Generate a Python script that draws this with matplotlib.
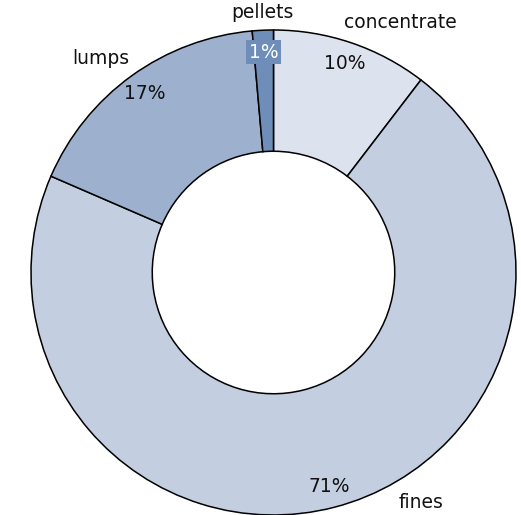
import matplotlib
matplotlib.use("Agg")
import matplotlib.pyplot as plt
import numpy as np

# Share of iron-ore product types (percent)
categories = ["concentrate", "fines", "lumps", "pellets"]
shares = [10.4, 71.1, 17.1, 1.4]
colors = ["#DDE3EE", "#C3CEE0", "#9DB0CE", "#6E8DB8"]

W, H = 521, 515
fig = plt.figure(figsize=(W / 100, H / 100), dpi=100)
ax = fig.add_axes([0, 0, 1, 1])

cx, cy, R = 273.5, H - 272.5, 242.5
wedges, _ = ax.pie(
    shares, colors=colors, startangle=90, counterclock=False,
    center=(cx, cy), radius=R, frame=True,
    wedgeprops=dict(width=R * 0.5, edgecolor="black", linewidth=1.1),
)
ax.set_xlim(0, W)
ax.set_ylim(0, H)
ax.set_aspect("equal")
ax.axis("off")

font = dict(family="DejaVu Sans", fontsize=13.5)

# percentage labels along each wedge's mid-angle, just inside the outer rim
for w, val, col in zip(wedges, shares, colors):
    ang = np.deg2rad((w.theta1 + w.theta2) / 2)
    r = R * 0.91
    x, y = cx + r * np.cos(ang), cy + r * np.sin(ang)
    if val < 5:
        ax.text(x, y, f"{val:.0f}%", ha="center", va="center", color="white",
                bbox=dict(boxstyle="square,pad=0.15", fc=col, ec="none"), **font)
    else:
        ax.text(x, y, f"{val:.0f}%", ha="center", va="center", color="#111111", **font)

# category names placed around the ring
name_pos = {
    "concentrate": (400, H - 22),
    "fines": (421, H - 502),
    "lumps": (101, H - 58),
    "pellets": (262, H - 13),
}
for name in categories:
    x, y = name_pos[name]
    ax.text(x, y, name, ha="center", va="center", color="#111111", **font)

fig.savefig("out.png", dpi=100)
